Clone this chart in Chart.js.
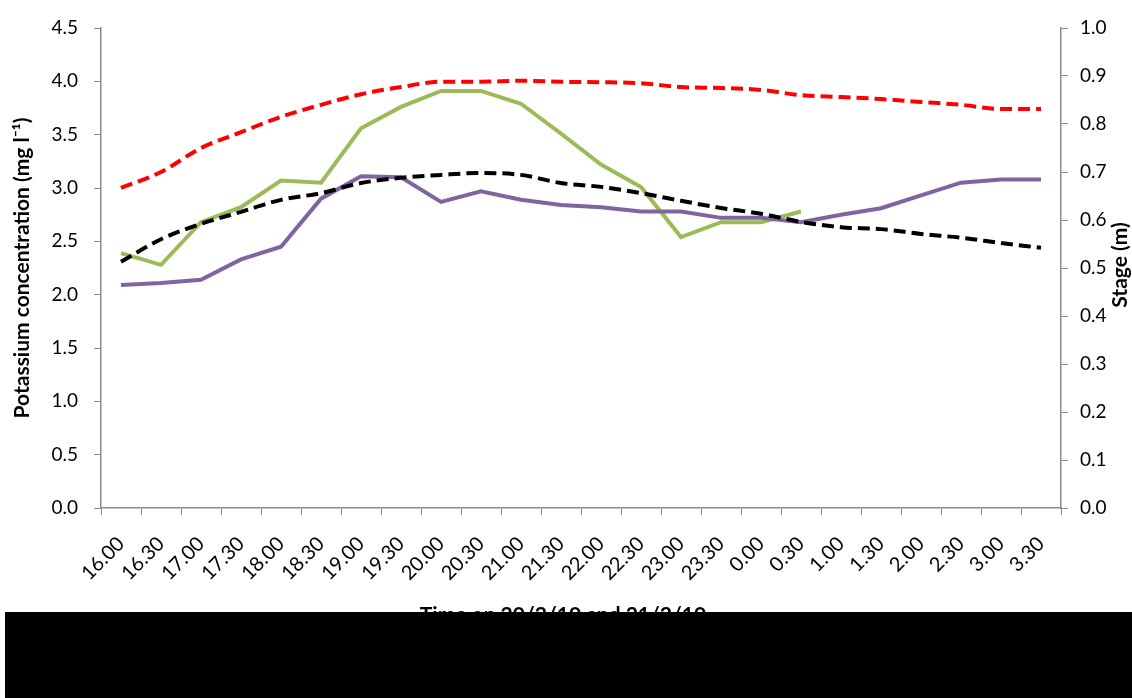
<!DOCTYPE html>
<html>
<head>
<meta charset="utf-8">
<script src="https://cdn.jsdelivr.net/npm/chart.js@4/dist/chart.umd.min.js"></script>
<style>
  body { margin: 0; background: #fff; }
  #wrap { position: relative; width: 1132px; height: 698px; overflow: hidden; }
  #cover { position: absolute; left: 5px; top: 612px; width: 1127px; height: 86px; background: #000; }
</style>
</head>
<body>
<div id="wrap">
  <canvas id="potassium-chart" width="1132" height="698"></canvas>
  <div id="cover"></div>
</div>
<script>
const timeLabels = ["16.00", "16.30", "17.00", "17.30", "18.00", "18.30", "19.00", "19.30",
    "20.00", "20.30", "21.00", "21.30", "22.00", "22.30", "23.00", "23.30",
    "0.00", "0.30", "1.00", "1.30", "2.00", "2.30", "3.00", "3.30"];

// potassium (mg l-1), left axis
const potassiumGreen = [2.39, 2.28, 2.68, 2.82, 3.07, 3.05, 3.56, 3.76, 3.91, 3.91, 3.79, 3.51,
    3.22, 3.01, 2.54, 2.68, 2.68, 2.78, null, null, null, null, null, null];
const potassiumPurple = [2.09, 2.11, 2.14, 2.33, 2.45, 2.90, 3.11, 3.10, 2.87, 2.97, 2.89, 2.84,
    2.82, 2.78, 2.78, 2.72, 2.72, 2.68, 2.75, 2.81, 2.93, 3.05, 3.08, 3.08];

// stage (m), right axis
const stageRed = [0.667, 0.700, 0.750, 0.783, 0.815, 0.840, 0.862, 0.877, 0.888, 0.888, 0.890, 0.888,
    0.887, 0.885, 0.877, 0.875, 0.871, 0.860, 0.856, 0.852, 0.846, 0.840, 0.831, 0.831];
const stageBlack = [0.513, 0.560, 0.592, 0.617, 0.642, 0.656, 0.677, 0.688, 0.694, 0.698, 0.694, 0.677,
    0.669, 0.656, 0.640, 0.625, 0.613, 0.596, 0.585, 0.581, 0.571, 0.563, 0.552, 0.542];

const FONT = "Lato";
const axisGrey = "#8c8c8c";

// extra titles: right axis reads bottom-to-top, x title sits a bit left of centre like the original
const extraTitles = {
    id: "extraTitles",
    afterDraw(chart) {
        const ctx = chart.ctx;
        ctx.save();
        ctx.fillStyle = "#000";
        ctx.font = "bold 21px " + FONT;
        ctx.textAlign = "center";
        ctx.textBaseline = "middle";
        ctx.translate(1120, 265);
        ctx.rotate(-Math.PI / 2);
        ctx.fillText("Stage (m)", 0, 0);
        ctx.restore();

        ctx.save();
        ctx.fillStyle = "#000";
        ctx.font = "bold 21px " + FONT;
        ctx.textAlign = "center";
        ctx.textBaseline = "middle";
        ctx.fillText("Time on 20/2/10 and 21/2/10", 563, 615);
        ctx.restore();
    }
};

const ctx = document.getElementById("potassium-chart").getContext("2d");

new Chart(ctx, {
    type: "line",
    data: {
        labels: timeLabels,
        datasets: [
            {
                label: "Stage 2",
                data: stageBlack,
                yAxisID: "y1",
                borderColor: "#000000",
                borderWidth: 4,
                borderDash: [12, 6],
                cubicInterpolationMode: "monotone",
                pointRadius: 0
            },
            {
                label: "Stage 1",
                data: stageRed,
                yAxisID: "y1",
                borderColor: "#ff0000",
                borderWidth: 4,
                borderDash: [12, 6],
                cubicInterpolationMode: "monotone",
                pointRadius: 0
            },
            {
                label: "Potassium 2",
                data: potassiumPurple,
                yAxisID: "y",
                borderColor: "#8064a2",
                borderWidth: 4,
                tension: 0,
                pointRadius: 0
            },
            {
                label: "Potassium 1",
                data: potassiumGreen,
                yAxisID: "y",
                borderColor: "#9bbb59",
                borderWidth: 4,
                tension: 0,
                pointRadius: 0,
                spanGaps: false
            }
        ]
    },
    options: {
        responsive: false,
        animation: false,
        layout: { padding: { top: 28, left: 0, right: 0, bottom: 0 } },
        plugins: {
            legend: { display: false },
            tooltip: { enabled: false }
        },
        scales: {
            x: {
                offset: true,
                grid: {
                    display: true,
                    drawOnChartArea: false,
                    drawTicks: true,
                    tickLength: 7,
                    color: axisGrey,
                    offset: true
                },
                border: { color: axisGrey, width: 1.5 },
                ticks: {
                    color: "#000",
                    font: { family: FONT, size: 20 },
                    maxRotation: 45,
                    minRotation: 45,
                    autoSkip: false,
                    padding: 17
                },
                afterFit(scale) { scale.height = 190; }
            },
            y: {
                position: "left",
                min: 0,
                max: 4.5,
                ticks: {
                    stepSize: 0.5,
                    color: "#000",
                    font: { family: FONT, size: 19 },
                    padding: 16,
                    callback: v => v.toFixed(1)
                },
                grid: {
                    drawOnChartArea: false,
                    tickLength: 7,
                    color: axisGrey
                },
                border: { color: axisGrey, width: 1.5 },
                title: {
                    display: true,
                    text: "Potassium concentration (mg l\u207B\u00B9)",
                    color: "#000",
                    font: { family: FONT, size: 21, weight: "bold" },
                    padding: { top: 10, bottom: 0 }
                },
                afterFit(scale) { scale.width = 101; }
            },
            y1: {
                position: "right",
                min: 0,
                max: 1,
                ticks: {
                    stepSize: 0.1,
                    color: "#000",
                    font: { family: FONT, size: 19 },
                    padding: 12,
                    callback: v => v.toFixed(1)
                },
                grid: {
                    drawOnChartArea: false,
                    tickLength: 7,
                    color: axisGrey
                },
                border: { color: axisGrey, width: 1.5 },
                afterFit(scale) { scale.width = 71; }
            }
        }
    },
    plugins: [extraTitles]
});
</script>
</body>
</html>
